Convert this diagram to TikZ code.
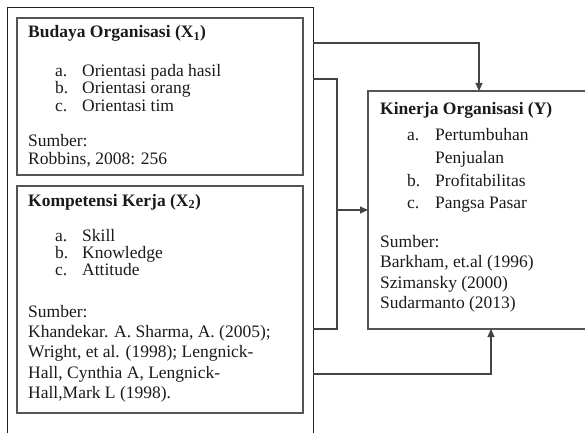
\documentclass[tikz,border=0pt]{standalone}
\usepackage{fontspec}
\setmainfont{Liberation Serif}
\usetikzlibrary{arrows.meta}
\definecolor{ink}{HTML}{1A1A1A}
\definecolor{boxline}{HTML}{555555}
\definecolor{frameline}{HTML}{222222}
\definecolor{connline}{HTML}{444444}
\tikzset{
  box/.style={draw=boxline, line width=1.3pt, rectangle, inner sep=0pt, outer sep=0pt, anchor=north west},
  frame/.style={draw=frameline, line width=0.9pt},
  conn/.style={draw=connline, line width=1.1pt},
  arr/.style={conn, -{Triangle[length=8pt,width=7pt]}},
  txt/.style={anchor=base west, inner sep=0pt, text=ink, font=\fontsize{17.5}{21}\selectfont},
  hd/.style={txt, font=\fontsize{17.5}{21}\selectfont\bfseries},
}
\begin{document}
\begin{tikzpicture}[x=1pt,y=-1pt]
\useasboundingbox (0,0) rectangle (585,433);
% outer frame (open at bottom)
\draw[frame] (7,433) -- (7,7) -- (313,7) -- (313,433);
% boxes
\node[box, minimum width=286pt, minimum height=157pt] (b1) at (17,18) {};
\node[box, minimum width=286pt, minimum height=227pt] (b2) at (17,186) {};
\node[box, minimum width=240pt, minimum height=238pt] (ky) at (368,91) {};
% box 1 text
\node[hd] (b1t) at (28,38) {Budaya Organisasi (X\textsubscript{1})};
\node[txt] (b1a) at (55,77) {a.};
\node[txt] (b1at) at (82,77) {Orientasi pada hasil};
\node[txt] (b1b) at (55,94) {b.};
\node[txt] (b1bt) at (82,94) {Orientasi orang};
\node[txt] (b1c) at (55,111) {c.};
\node[txt] (b1ct) at (82,111) {Orientasi tim};
\node[txt] (b1s) at (28,146) {Sumber:};
\node[txt] (b1r) at (28,164) {Robbins, 2008: 256};
% box 2 text
\node[hd] (b2t) at (28,206) {Kompetensi Kerja (X\textsubscript{2})};
\node[txt] (b2a) at (55,241) {a.};
\node[txt] (b2at) at (82,241) {Skill};
\node[txt] (b2b) at (55,258) {b.};
\node[txt] (b2bt) at (82,258) {Knowledge};
\node[txt] (b2c) at (55,275) {c.};
\node[txt] (b2ct) at (82,275) {Attitude};
\node[txt] (b2s) at (28,317) {Sumber:};
\node[txt] (b2r1) at (28,337) {Khandekar. A. Sharma, A. (2005);};
\node[txt] (b2r2) at (28,357) {Wright, et al. (1998); Lengnick-};
\node[txt] (b2r3) at (28,378) {Hall, Cynthia A, Lengnick-};
\node[txt] (b2r4) at (28,398) {Hall,Mark L (1998).};
% Kinerja text
\node[hd] (kyt) at (380,114) {Kinerja Organisasi (Y)};
\node[txt] (kya) at (407,140) {a.};
\node[txt] (kyat) at (435,140) {Pertumbuhan};
\node[txt] (kyat2) at (435,163) {Penjualan};
\node[txt] (kyb) at (407,186) {b.};
\node[txt] (kybt) at (435,186) {Profitabilitas};
\node[txt] (kyc) at (407,208) {c.};
\node[txt] (kyct) at (435,208) {Pangsa Pasar};
\node[txt] (kys) at (380,247) {Sumber:};
\node[txt] (kyr1) at (380,267) {Barkham, et.al (1996)};
\node[txt] (kyr2) at (380,288) {Szimansky (2000)};
\node[txt] (kyr3) at (380,308) {Sudarmanto (2013)};
% connector points
\coordinate (o1) at (313,43);
\coordinate (o2) at (313,79);
\coordinate (o3) at (313,329);
\coordinate (o4) at (313,374);
\coordinate (bt) at (337,79);
\coordinate (bb) at (337,329);
\coordinate (bm) at (337,210);
\coordinate (t1) at (479,91);
\coordinate (t2) at (491,329);
% connectors
\draw[arr] (o1) -| (t1);
\draw[conn] (o2) -- (bt) -- (bb) -- (o3);
\draw[arr] (bm) -- (ky.west);
\draw[arr] (o4) -| (t2);
\end{tikzpicture}
\end{document}
